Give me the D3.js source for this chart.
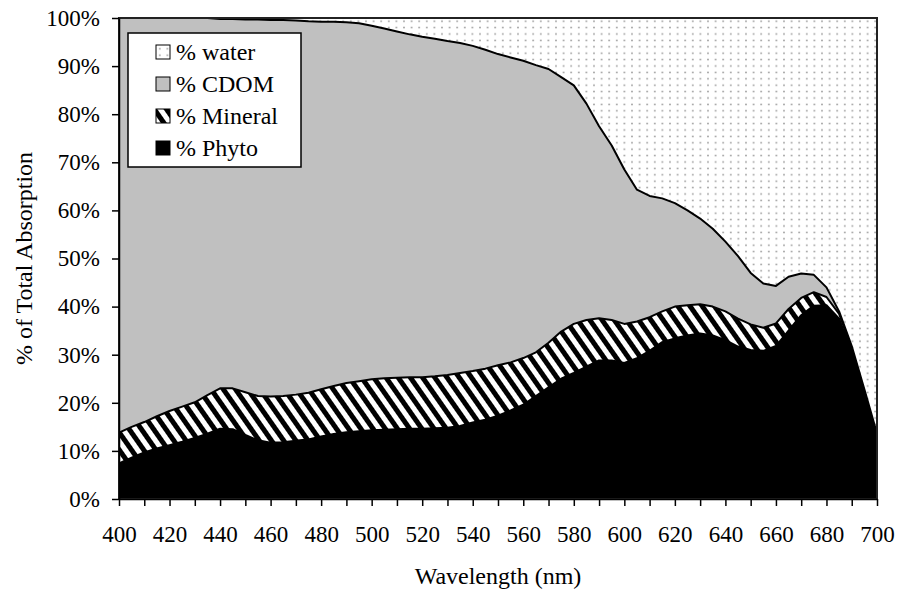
<!DOCTYPE html>
<meta charset="utf-8">
<style>
body { margin: 0; background: #fff; }
svg { display: block; font-family: "Liberation Serif", "Times New Roman", serif; }
.axis path, .axis line { stroke: #000; stroke-width: 1.5; }
.axis text { font-size: 23px; fill: #000; font-family: "Liberation Serif", "Times New Roman", serif; }
</style>
<svg width="898" height="594"></svg>
<script src="https://d3js.org/d3.v7.min.js"></script>
<script>
// wavelength (nm) and % of total absorption for each component
var wavelengths = [400,405,410,415,420,425,430,435,440,445,450,455,460,465,470,475,480,485,490,495,
  500,505,510,515,520,525,530,535,540,545,550,555,560,565,570,575,580,585,590,595,
  600,605,610,615,620,625,630,635,640,645,650,655,660,665,670,675,680,685,690,695,700]

var phyto = [7.4,8.6,9.7,10.5,11.2,11.9,12.7,13.6,14.6,14.5,13.3,12.2,11.7,11.8,12.1,12.4,13.0,13.5,13.9,14.1,
  14.3,14.4,14.5,14.6,14.6,14.7,14.8,15.2,15.9,16.5,17.3,18.4,19.6,21.4,23.2,25.0,26.2,27.5,28.8,28.8,
  28.3,29.3,30.8,32.6,33.4,34.0,34.4,34.0,33.0,31.7,31.0,30.8,31.8,35.0,38.2,40.2,40.3,37.5,30.5,21.5,12.5]

var mineral = [6.4,6.4,6.3,6.7,7.1,7.3,7.4,8.0,8.4,8.5,8.9,9.2,9.6,9.6,9.6,9.7,9.8,10.0,10.2,10.4,
  10.6,10.7,10.7,10.7,10.7,10.8,11.0,11.0,10.7,10.6,10.5,10.0,9.7,9.1,9.3,9.8,10.2,9.7,8.8,8.4,
  8.1,7.6,7.0,6.4,6.6,6.3,6.1,6.0,6.0,5.8,5.3,4.8,4.7,4.5,3.6,2.8,1.7,1.0,0.7,0.7,0.5]

var cdom = [86.2,85.0,84.0,82.8,81.7,80.8,79.9,78.4,76.8,76.8,77.5,78.3,78.3,78.2,77.8,77.2,76.4,75.7,75.0,74.4,
  73.5,72.7,72.0,71.3,70.8,70.2,69.4,68.6,67.6,66.3,64.7,63.4,61.8,59.7,56.9,52.9,49.6,45.0,39.9,36.3,
  32.1,27.4,25.2,23.5,21.5,19.7,17.8,16.2,14.5,13.0,10.7,9.2,7.8,6.7,5.1,3.6,2.0,0.5,0.6,0.6,0.6]

var water = [0,0,0,0,0,0,0,0,0.2,0.2,0.3,0.3,0.4,0.4,0.5,0.7,0.8,0.8,0.9,1.1,
  1.6,2.2,2.8,3.4,3.9,4.3,4.8,5.2,5.8,6.6,7.5,8.2,8.9,9.8,10.6,12.3,14.0,17.8,22.5,26.5,
  31.5,35.7,37.0,37.5,38.5,40.0,41.7,43.8,46.5,49.5,53.0,55.2,55.7,53.8,53.1,53.4,56.0,61.0,68.2,77.2,86.4]

var keys = ['phyto', 'mineral', 'cdom', 'water']
var legendLabels = ['% water', '% CDOM', '% Mineral', '% Phyto']
var legendKeys = ['water', 'cdom', 'mineral', 'phyto']
var xTicks = [400,410,420,430,440,450,460,470,480,490,500,510,520,530,540,550,560,570,580,590,600,610,620,630,640,650,660,670,680,690,700]
var yTicks = [0,0.1,0.2,0.3,0.4,0.5,0.6,0.7,0.8,0.9,1]

var margin = {top: 18, right: 21, bottom: 95, left: 119}
var width = 898 - margin.left - margin.right
var height = 594 - margin.top - margin.bottom

var svg = d3.select('svg')

// fill patterns
var defs = svg.append('defs')
var dots = defs.append('pattern')
  .attr('id', 'dots')
  .attr('patternUnits', 'userSpaceOnUse')
  .attr('width', 7.6).attr('height', 6.4)
dots.append('rect').attr('width', 7.6).attr('height', 6.4).attr('fill', '#fff')
dots.append('circle').attr('cx', 3.8).attr('cy', 3.2).attr('r', 0.9).attr('fill', '#999')

var stripes = defs.append('pattern')
  .attr('id', 'stripes')
  .attr('patternUnits', 'userSpaceOnUse')
  .attr('width', 10).attr('height', 10)
  .attr('patternTransform', 'rotate(-35)')
stripes.append('rect').attr('width', 10).attr('height', 10).attr('fill', '#fff')
stripes.append('rect').attr('width', 5).attr('height', 10).attr('fill', '#000')

var fills = {phyto: '#000', mineral: 'url(#stripes)', cdom: '#c0c0c0', water: 'url(#dots)'}

var g = svg.append('g').attr('transform', 'translate(' + margin.left + ',' + margin.top + ')')

var x = d3.scaleLinear().domain([400, 700]).range([0, width])
var y = d3.scaleLinear().domain([0, 1]).range([height, 0])

var rows = wavelengths.map(function (w, i) {
  return {w: w, phyto: phyto[i], mineral: mineral[i], cdom: cdom[i], water: water[i]}
})

var series = d3.stack().keys(keys).offset(d3.stackOffsetExpand)(rows)

var area = d3.area()
  .x(d => x(d.data.w))
  .y0(d => y(d[0]))
  .y1(d => y(d[1]))

var topLine = d3.line()
  .x(d => x(d.data.w))
  .y(d => y(d[1]))

g.append('g').selectAll('path')
  .data(series)
  .enter().append('path')
  .attr('d', area)
  .attr('fill', s => fills[s.key])

g.append('g').selectAll('path')
  .data(series.filter(s => s.key !== 'water'))
  .enter().append('path')
  .attr('d', topLine)
  .attr('fill', 'none')
  .attr('stroke', '#000')
  .attr('stroke-width', 2)
  .attr('stroke-linejoin', 'round')

// plot border
g.append('rect')
  .attr('width', width).attr('height', height)
  .attr('fill', 'none')
  .attr('stroke', '#222')
  .attr('stroke-width', 2)

g.append('g')
  .attr('class', 'axis')
  .call(d3.axisLeft(y).tickValues(yTicks).tickSize(7).tickSizeOuter(0).tickPadding(12).tickFormat(d3.format('.0%')))

g.append('g')
  .attr('class', 'axis')
  .attr('transform', 'translate(0,' + height + ')')
  .call(d3.axisBottom(x).tickValues(xTicks).tickSize(7).tickSizeOuter(0).tickPadding(20)
    .tickFormat(d => d % 20 === 0 ? d : ''))

// axis titles
svg.append('text')
  .attr('transform', 'translate(32,' + (margin.top + height / 2) + ') rotate(-90)')
  .attr('text-anchor', 'middle')
  .attr('font-size', 24)
  .text('% of Total Absorption')

svg.append('text')
  .attr('x', margin.left + width / 2)
  .attr('y', 584)
  .attr('text-anchor', 'middle')
  .attr('font-size', 24)
  .text('Wavelength (nm)')

// legend
var legend = svg.append('g').attr('transform', 'translate(128,33)')
legend.append('rect')
  .attr('width', 173).attr('height', 134)
  .attr('fill', '#fff')
  .attr('stroke', '#000')
  .attr('stroke-width', 1.5)

var items = legend.selectAll('g.item')
  .data(legendKeys)
  .enter().append('g')
  .attr('class', 'item')
  .attr('transform', (d, i) => 'translate(28,' + (19 + i * 32) + ')')

items.append('rect')
  .attr('x', 0).attr('y', -7)
  .attr('width', 14).attr('height', 14)
  .attr('fill', d => fills[d])
  .attr('stroke', '#000')
  .attr('stroke-width', 1)

items.append('text')
  .attr('x', 20)
  .attr('dy', '0.33em')
  .attr('font-size', 24)
  .text((d, i) => legendLabels[i])
</script>
